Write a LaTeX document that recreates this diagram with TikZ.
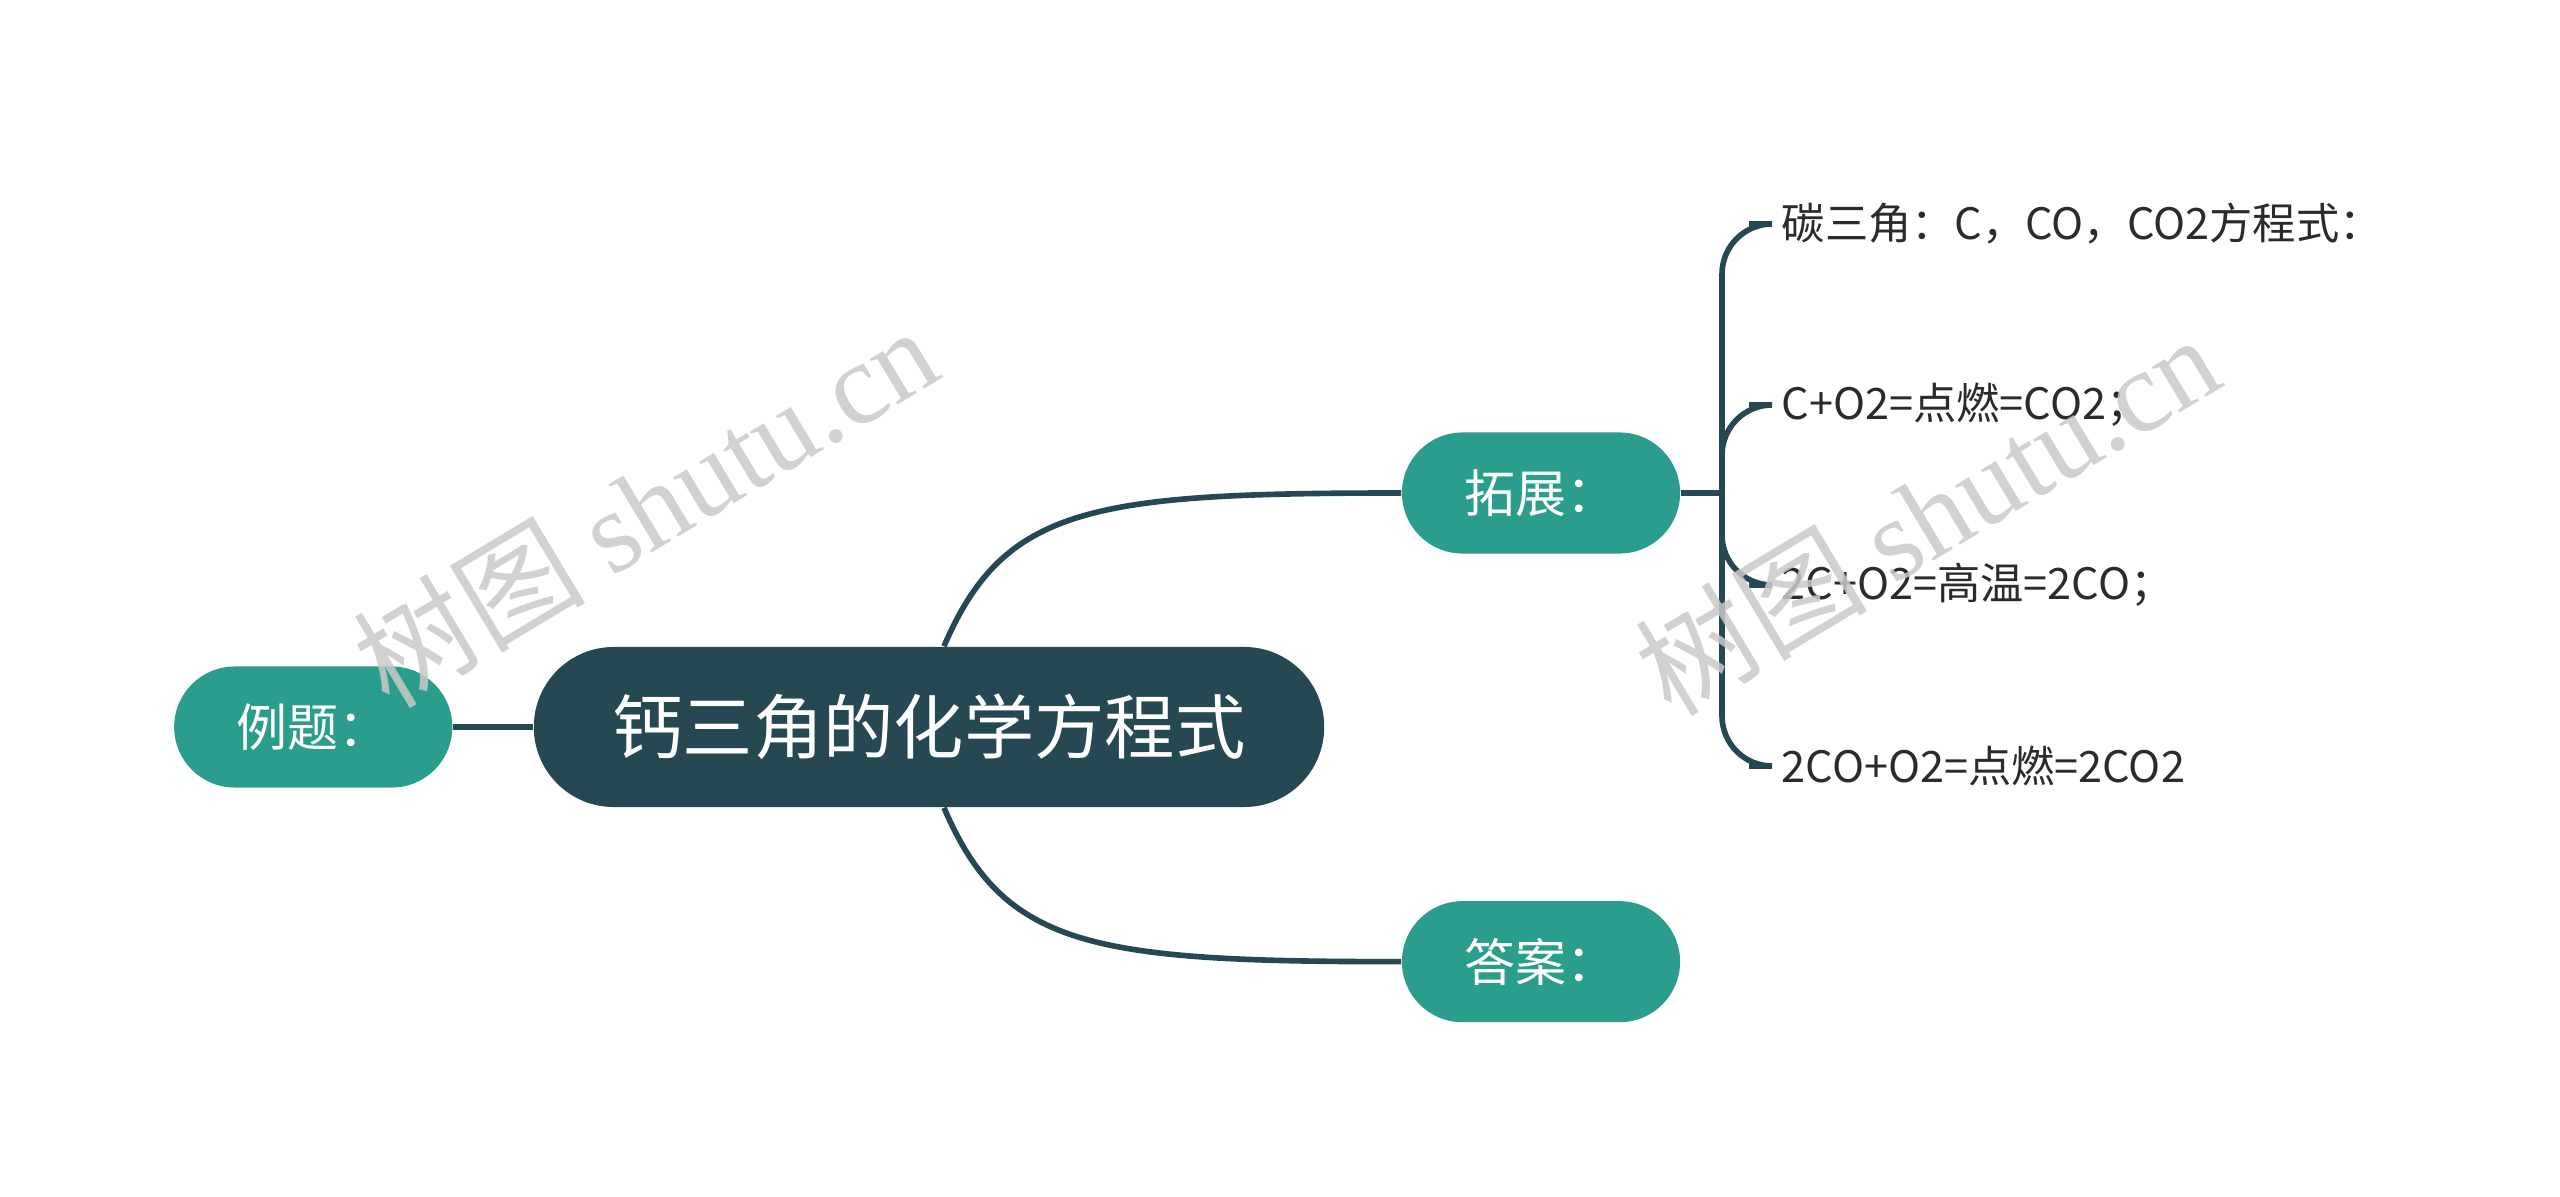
\documentclass[tikz,border=0pt]{standalone}
\usepackage{fontspec}
\setmainfont{Noto Sans CJK SC}
\newfontfamily\markfont{Liberation Serif}
\usepackage{tikz}
\usetikzlibrary{positioning,shapes.misc,calc}
\definecolor{slate}{HTML}{264853}
\definecolor{jade}{HTML}{2A9D8C}
\definecolor{ink}{HTML}{2B2B2B}
\definecolor{markgray}{HTML}{C9C9C9}
\tikzset{
  rootbox/.style={
    rounded rectangle, fill=slate, text=white,
    minimum width=7.9cm, minimum height=1.6cm,
    font=\fontsize{20}{23}\selectfont, inner sep=0pt
  },
  topicbox/.style={
    rounded rectangle, fill=jade, text=white,
    minimum width=2.78cm, minimum height=1.21cm,
    font=\fontsize{14.5}{17}\selectfont, inner sep=0pt
  },
  leaftext/.style={anchor=west, text=ink, inner sep=2pt,
    font=\fontsize{12.3}{15}\selectfont},
  branch/.style={draw=slate, line width=1.6pt},
  stamp/.style={text=markgray, text opacity=0.85, rotate=31,
    font=\fontsize{33}{36}\selectfont},
}
\begin{document}
\begin{tikzpicture}[x=0.01cm, y=-0.01cm]
\useasboundingbox (0,0) rectangle (2560,1197);
\node[rootbox] (root) at (929,727) {钙三角的化学方程式};
\node[topicbox, left=0.8cm of root] (example) {例题：};
\node[topicbox] (expand) at (1541,493) {拓展：};
\node[topicbox, below=3.46cm of expand] (answer) {答案：};
\node[leaftext] (leaf1) at (1774,224) {碳三角：C，CO，CO2方程式：};
\node[leaftext] (leaf2) at (1774,405) {C+O2=点燃=CO2；};
\node[leaftext] (leaf3) at (1774,585) {2C+O2=高温=2CO；};
\node[leaftext] (leaf4) at (1774,766) {2CO+O2=点燃=2CO2};
\coordinate (fork) at (1722,493);
\draw[branch] (example.east) -- (root.west);
\draw[branch] ([xshift=0.15cm]root.north) .. controls +(60,-140) and +(-310,0) .. (expand.west);
\draw[branch] ([xshift=0.15cm]root.south) .. controls +(60,140) and +(-310,0) .. (answer.west);
\draw[branch] (expand.east) -- (fork);
\draw[branch, rounded corners=0.5cm] (fork) |- ([xshift=-0.25cm]leaf1.west);
\draw[branch, rounded corners=0.5cm] (fork) |- ([xshift=-0.25cm]leaf2.west);
\draw[branch, rounded corners=0.5cm] (fork) |- ([xshift=-0.25cm]leaf3.west);
\draw[branch, rounded corners=0.5cm] (fork) |- ([xshift=-0.25cm]leaf4.west);
\node[stamp] (mark1) at (645,506) {树图 {\markfont shutu.cn}};
\node[stamp] (mark2) at (1927,514) {树图 {\markfont shutu.cn}};
\end{tikzpicture}
\end{document}
